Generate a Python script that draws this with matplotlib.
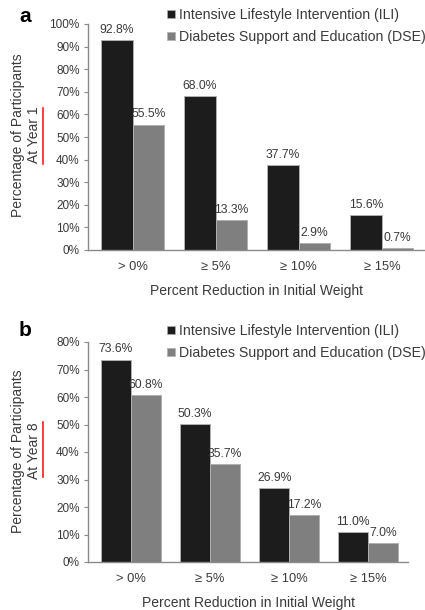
import numpy as np
import matplotlib
matplotlib.use("Agg")
import matplotlib.pyplot as plt
from matplotlib.lines import Line2D
from matplotlib.patches import Patch

plt.rcParams["font.family"] = ["Liberation Sans", "DejaVu Sans"]

# ── Data ─────────────────────────────────────────────────────────────────────
categories = ["> 0%", "≥ 5%", "≥ 10%", "≥ 15%"]
ili_year1 = [92.8, 68.0, 37.7, 15.6]
dse_year1 = [55.5, 13.3, 2.9, 0.7]
ili_year8 = [73.6, 50.3, 26.9, 11.0]
dse_year8 = [60.8, 35.7, 17.2, 7.0]
series_names = ["Intensive Lifestyle Intervention (ILI)",
                "Diabetes Support and Education (DSE)"]

# ── Style ────────────────────────────────────────────────────────────────────
W, H = 425, 610
C_ILI = "#1c1c1c"
C_DSE = "#7f7f7f"
C_EDGE = "#b0b0b0"
C_AX = "#8a8a8a"
C_TXT = "#3a3a3a"
BW = 0.38


def fx(px):
    return px / W


def fy(py):
    return 1 - py / H


def draw_panel(ax, ili, dse, ymax, xlim):
    x = np.arange(len(categories))
    ax.bar(x - BW / 2, ili, BW, color=C_ILI, edgecolor=C_EDGE, linewidth=0.7)
    ax.bar(x + BW / 2, dse, BW, color=C_DSE, edgecolor=C_EDGE, linewidth=0.7)
    for xi, v in zip(x - BW / 2, ili):
        ax.annotate(f"{v:.1f}%", (xi, v), xytext=(0, 3), textcoords="offset points",
                    ha="center", va="bottom", fontsize=8.7, color=C_TXT)
    for xi, v in zip(x + BW / 2, dse):
        ax.annotate(f"{v:.1f}%", (xi, v), xytext=(0, 3), textcoords="offset points",
                    ha="center", va="bottom", fontsize=8.7, color=C_TXT)
    ax.set_ylim(0, ymax)
    ax.set_xlim(*xlim)
    ax.set_yticks(np.arange(0, ymax + 1, 10))
    ax.set_yticklabels([f"{t}%" for t in range(0, ymax + 1, 10)])
    ax.set_xticks(x)
    ax.set_xticklabels(categories)
    for s in ("top", "right"):
        ax.spines[s].set_visible(False)
    for s in ("left", "bottom"):
        ax.spines[s].set_color(C_AX)
        ax.spines[s].set_linewidth(1.0)
    ax.tick_params(axis="y", length=3, color=C_AX, labelsize=8.5, labelcolor=C_TXT, pad=3)
    ax.tick_params(axis="x", length=0, labelsize=9.3, labelcolor=C_TXT, pad=8)
    ax.set_xlabel("Percent Reduction in Initial Weight", fontsize=10, color=C_TXT, labelpad=8)


fig = plt.figure(figsize=(W / 100, H / 100), dpi=100)

ax_a = fig.add_axes([fx(88), fy(250), fx(425 - 88), (250 - 24) / H])
ax_b = fig.add_axes([fx(88), fy(562), fx(408 - 88), (562 - 342) / H])

draw_panel(ax_a, ili_year1, dse_year1, 100, (-0.54, 3.52))
draw_panel(ax_b, ili_year8, dse_year8, 80, (-0.54, 3.5))

handles = [Patch(facecolor=C_ILI, edgecolor=C_EDGE, linewidth=0.5),
           Patch(facecolor=C_DSE, edgecolor=C_EDGE, linewidth=0.5)]
for top in (8, 324):
    fig.legend(handles, series_names, loc="upper left",
               bbox_to_anchor=(fx(167), fy(top)), frameon=False,
               fontsize=10.2, labelcolor=C_TXT, handlelength=0.55, handleheight=0.55,
               handletextpad=0.3, labelspacing=0.55, borderaxespad=0, borderpad=0)

fig.text(fx(25), fy(16), "a", fontsize=15, fontweight="bold", ha="center", va="center")
fig.text(fx(25), fy(330), "b", fontsize=15, fontweight="bold", ha="center", va="center")

fig.text(fx(26), fy(135), "Percentage of Participants\nAt Year 1", rotation=90,
         ha="center", va="center", multialignment="center", fontsize=10, color=C_TXT)
fig.text(fx(26), fy(451), "Percentage of Participants\nAt Year 8", rotation=90,
         ha="center", va="center", multialignment="center", fontsize=10, color=C_TXT)

# red highlight marks beside the y labels
fig.add_artist(Line2D([fx(43), fx(43)], [fy(108), fy(164)], color="#ff1a1a",
                      linewidth=1.2, transform=fig.transFigure))
fig.add_artist(Line2D([fx(43), fx(43)], [fy(422), fy(477)], color="#ff1a1a",
                      linewidth=1.2, transform=fig.transFigure))

fig.savefig("out.png", dpi=100)
